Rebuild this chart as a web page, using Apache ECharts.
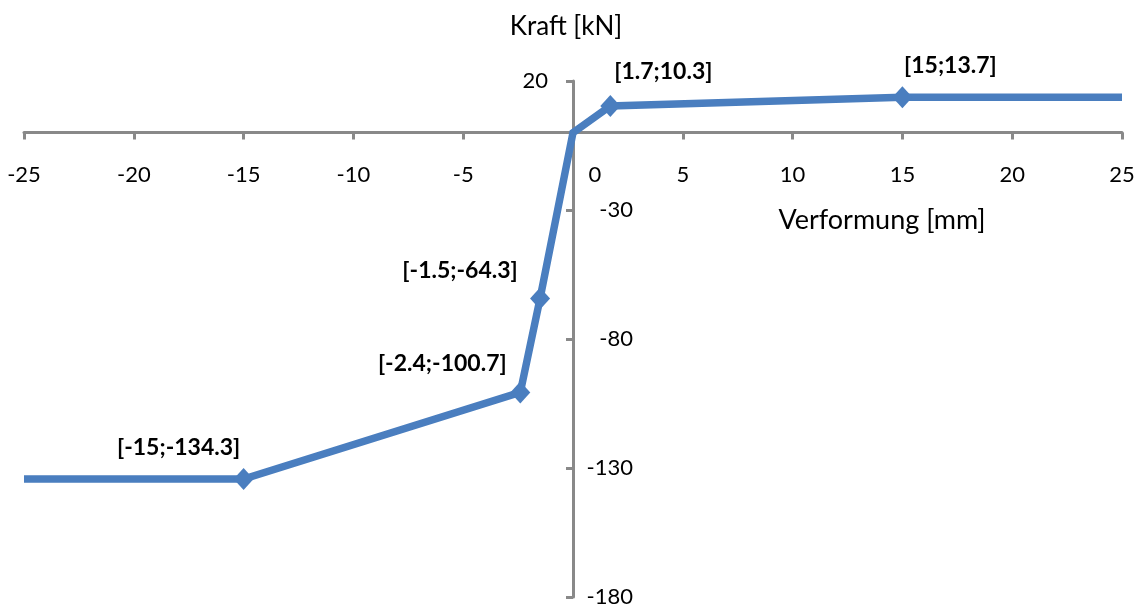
<!DOCTYPE html>
<html><head><meta charset="utf-8">
<script src="https://cdn.jsdelivr.net/npm/echarts@6/dist/echarts.min.js"></script>
<style>html,body{margin:0;padding:0;background:#fff}#c{width:1148px;height:607px}</style>
</head><body><div id="c"></div>
<script>
// ---- data ----
const deformation = [-25, -15, -2.4, -1.5, 0, 1.7, 15, 25];
const force = [-134.3, -134.3, -100.7, -64.3, 0, 10.3, 13.7, 13.7];
const labelled = [false, true, true, true, false, true, true, false];
const xTitle = 'Verformung [mm]';
const yTitle = 'Kraft [kN]';

// ---- styling (label placement offsets relative to the point) ----
const labelOffsets = [null, [-65, -32], [-78, -29], [-80, -28], null, [53, -34], [48, -32], null];
const FONT = 'Lato, "Open Sans", sans-serif';
const AXIS_COLOR = '#898989';
const LINE_COLOR = '#4a7ebf';
const GRID = { left: 24, right: 26, top: 81, bottom: 10 };
const W = 1148, H = 607;
const X_MIN = -25, X_MAX = 25, Y_MIN = -180, Y_MAX = 20;
// offsets that move the axes onto the zero lines
const plotW = W - GRID.left - GRID.right, plotH = H - GRID.top - GRID.bottom;
const zeroXpx = plotW * (0 - X_MIN) / (X_MAX - X_MIN);
const zeroYfromBottom = plotH * (0 - Y_MIN) / (Y_MAX - Y_MIN);

const seriesData = deformation.map((x, i) => {
  const item = { value: [x, force[i]] };
  if (labelled[i]) {
    item.symbol = 'diamond';
    item.symbolSize = [20, 22];
    item.label = {
      show: true,
      position: 'inside',
      offset: labelOffsets[i],
      formatter: '[' + x + ';' + force[i] + ']'
    };
  } else {
    item.symbol = 'none';
    item.symbolSize = 0;
  }
  return item;
});

const chart = echarts.init(document.getElementById('c'), null, { renderer: 'canvas' });
chart.setOption({
  animation: false,
  backgroundColor: '#fff',
  textStyle: { fontFamily: FONT },
  grid: Object.assign({ containLabel: false, outerBoundsMode: 'none' }, GRID),
  xAxis: {
    type: 'value', min: X_MIN, max: X_MAX, interval: 5,
    position: 'bottom',
    offset: -zeroYfromBottom,
    axisLine: { onZero: false, lineStyle: { color: AXIS_COLOR, width: 3 } },
    axisTick: { show: true, length: 7, lineStyle: { color: AXIS_COLOR, width: 3 } },
    splitLine: { show: false },
    axisLabel: {
      margin: 31, fontSize: 22, color: '#000', fontFamily: FONT,
      formatter: v => v === 0 ? '{z|0}' : String(v),
      rich: { z: { fontSize: 22, color: '#000', fontFamily: FONT, padding: [0, 0, 0, 44] } }
    }
  },
  yAxis: [{
    type: 'value', min: Y_MIN, max: Y_MAX, interval: 50,
    position: 'left',
    offset: -zeroXpx,
    axisLine: { onZero: false, lineStyle: { color: AXIS_COLOR, width: 3 } },
    axisTick: { show: true, length: 7, lineStyle: { color: AXIS_COLOR, width: 3 } },
    splitLine: { show: false },
    axisLabel: {
      margin: 25, fontSize: 22, color: '#000', fontFamily: FONT,
      formatter: v => v > 0 ? String(v) : ''
    }
  }, {
    type: 'value', min: Y_MIN, max: Y_MAX, interval: 50,
    position: 'right',
    offset: -(plotW - zeroXpx),
    axisLine: { show: false, onZero: false },
    axisTick: { show: false },
    splitLine: { show: false },
    axisLabel: {
      margin: 60, align: 'right', fontSize: 22, color: '#000', fontFamily: FONT,
      formatter: v => v < 0 ? String(v) : ''
    }
  }],
  graphic: [
    { type: 'text', x: 566, y: 27, style: { text: yTitle, font: '26px ' + FONT, fill: '#000', align: 'center', verticalAlign: 'middle' } },
    { type: 'text', x: 882, y: 220, style: { text: xTitle, font: '27px ' + FONT, fill: '#000', align: 'center', verticalAlign: 'middle' } }
  ],
  series: [{
    type: 'line',
    xAxisIndex: 0, yAxisIndex: 0,
    data: seriesData,
    showAllSymbol: true,
    lineStyle: { color: LINE_COLOR, width: 7.5, join: 'miter' },
    itemStyle: { color: LINE_COLOR },
    label: { fontSize: 23, fontWeight: 'bold', color: '#000', fontFamily: FONT },
    emphasis: { disabled: true },
    z: 3
  }]
});
</script>
</body></html>
